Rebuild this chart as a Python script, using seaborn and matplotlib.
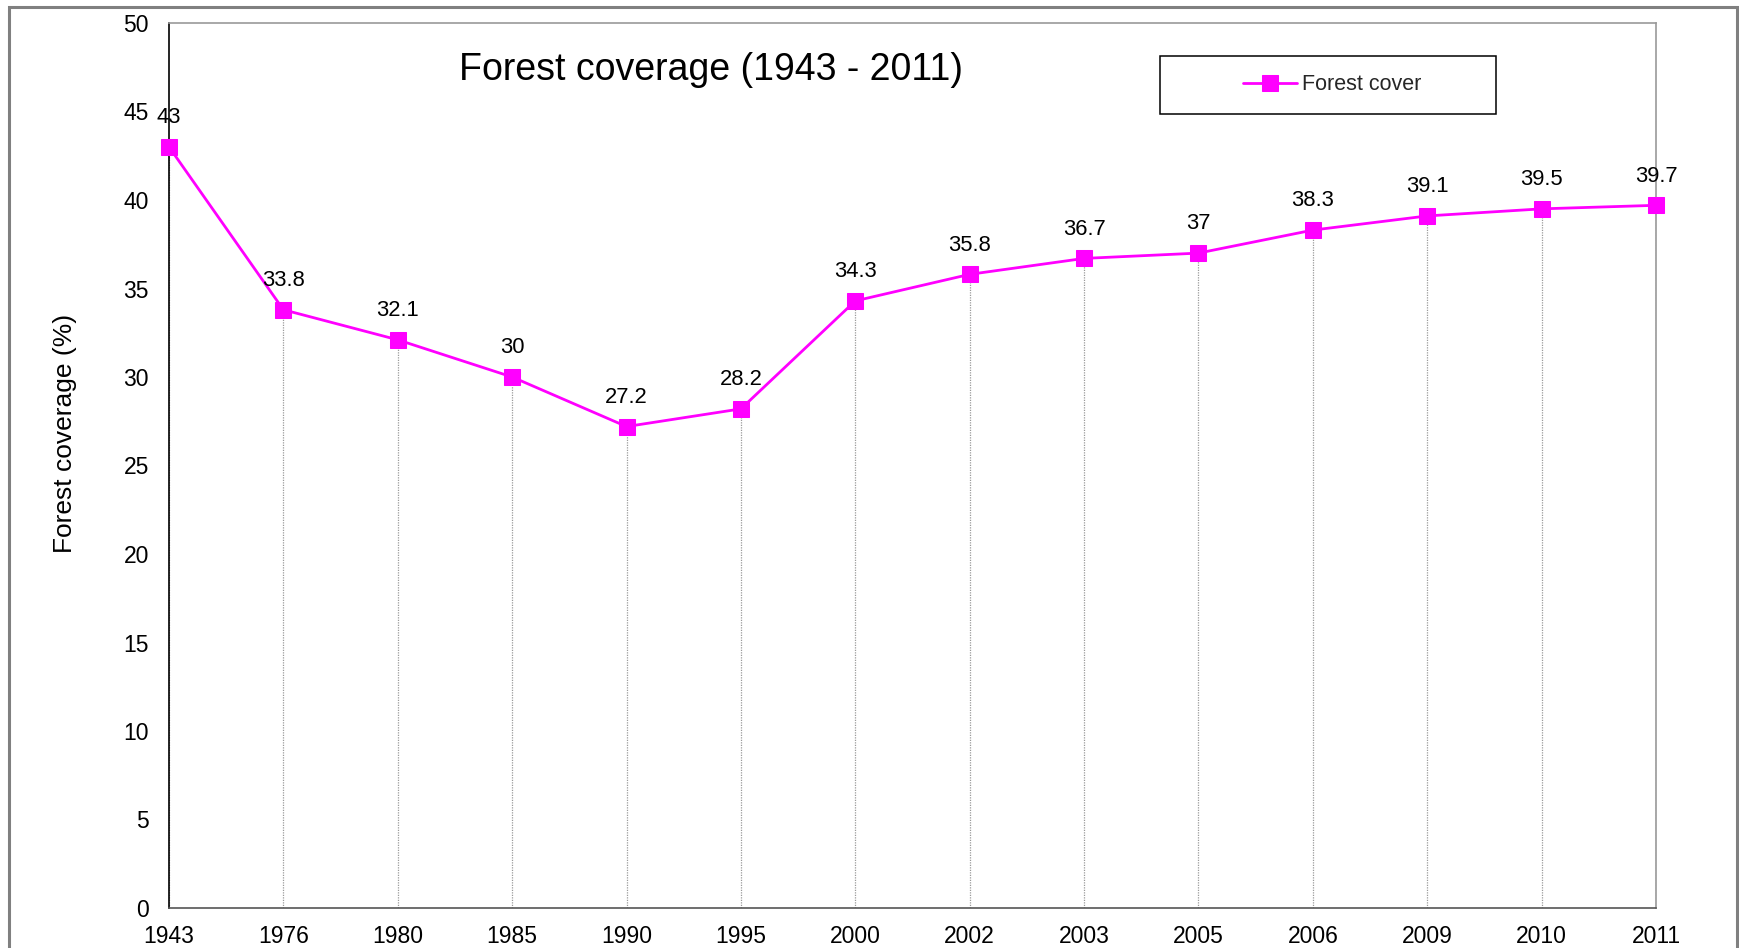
# forest coverage over the years, line with square markers and value labels

import matplotlib
matplotlib.use("Agg")
import matplotlib.pyplot as plt
from matplotlib.patches import Rectangle
import seaborn as sns

# data
years = ["1943", "1976", "1980", "1985", "1990", "1995", "2000",
         "2002", "2003", "2005", "2006", "2009", "2010", "2011"]
cover = [43, 33.8, 32.1, 30, 27.2, 28.2, 34.3,
         35.8, 36.7, 37, 38.3, 39.1, 39.5, 39.7]
y_ticks = [0, 5, 10, 15, 20, 25, 30, 35, 40, 45, 50]

sns.set_style("white")
plt.rcParams["font.family"] = ["Liberation Sans", "DejaVu Sans"]

W, H = 1739, 948
fig = plt.figure(figsize=(W / 100, H / 100), dpi=100)
ax = fig.add_axes([169 / W, 1 - 908 / H, (1656 - 169) / W, (908 - 23) / H])

pos = list(range(len(years)))

# dotted drop lines from each point down to zero
ax.vlines(pos, 0, cover, colors="#9a9a9a", linestyles=(0, (1, 1)), linewidth=0.9, zorder=1)

sns.lineplot(x=pos, y=cover, ax=ax, color="#FF00FF", marker="s", markersize=11,
             markeredgecolor="#FF00FF", linewidth=2, label="Forest cover", zorder=3,
             legend=False, clip_on=False)

for i, v in zip(pos, cover):
    ax.annotate("{:g}".format(v), (i, v), xytext=(0, 21), textcoords="offset points",
                ha="center", va="center", fontsize=15.8, color="black", zorder=4)

ax.set_xlim(0, len(years) - 1)
ax.set_ylim(0, 50)
ax.set_xticks(pos)
ax.set_xticklabels(years)
ax.set_yticks(y_ticks)
ax.tick_params(axis="both", labelsize=16.5, direction="out", length=5.5, width=1,
               color="black", labelcolor="black")
ax.tick_params(axis="x", pad=7)
ax.tick_params(axis="y", pad=9)

ax.spines["left"].set_color("black")
ax.spines["bottom"].set_color("#555555")
ax.spines["top"].set_color("#999999")
ax.spines["right"].set_color("#999999")
for s in ax.spines.values():
    s.set_linewidth(1.2)

ax.set_ylabel("Forest coverage (%)", fontsize=19, color="black")
ax.yaxis.set_label_coords((77 - 169) / (1656 - 169), (908 - 433) / (908 - 23))

fig.text(711 / W, 1 - 70 / H, "Forest coverage (1943 - 2011)", fontsize=27,
         ha="center", va="center", color="black")

# legend box
fig.patches.append(Rectangle((1160 / W, 1 - 114 / H), (1496 - 1160) / W, (114 - 56) / H,
                             transform=fig.transFigure, facecolor="white",
                             edgecolor="black", linewidth=1.1, zorder=5))
h, l = ax.get_lines()[0], "Forest cover"
leg = fig.legend([h], [l], loc="center", bbox_to_anchor=(1332 / W, 1 - 85 / H),
                 frameon=False, fontsize=15.5, handlelength=2.5, handletextpad=0.25)
leg.set_zorder(6)

# outer chart border, cut off at the bottom
fig.patches.append(Rectangle((9 / W, -0.1), (1737 - 9) / W, 0.1 + (H - 7) / H,
                             transform=fig.transFigure, facecolor="none",
                             edgecolor="#808080", linewidth=2.2, zorder=0))

fig.savefig("out.png", dpi=100)
